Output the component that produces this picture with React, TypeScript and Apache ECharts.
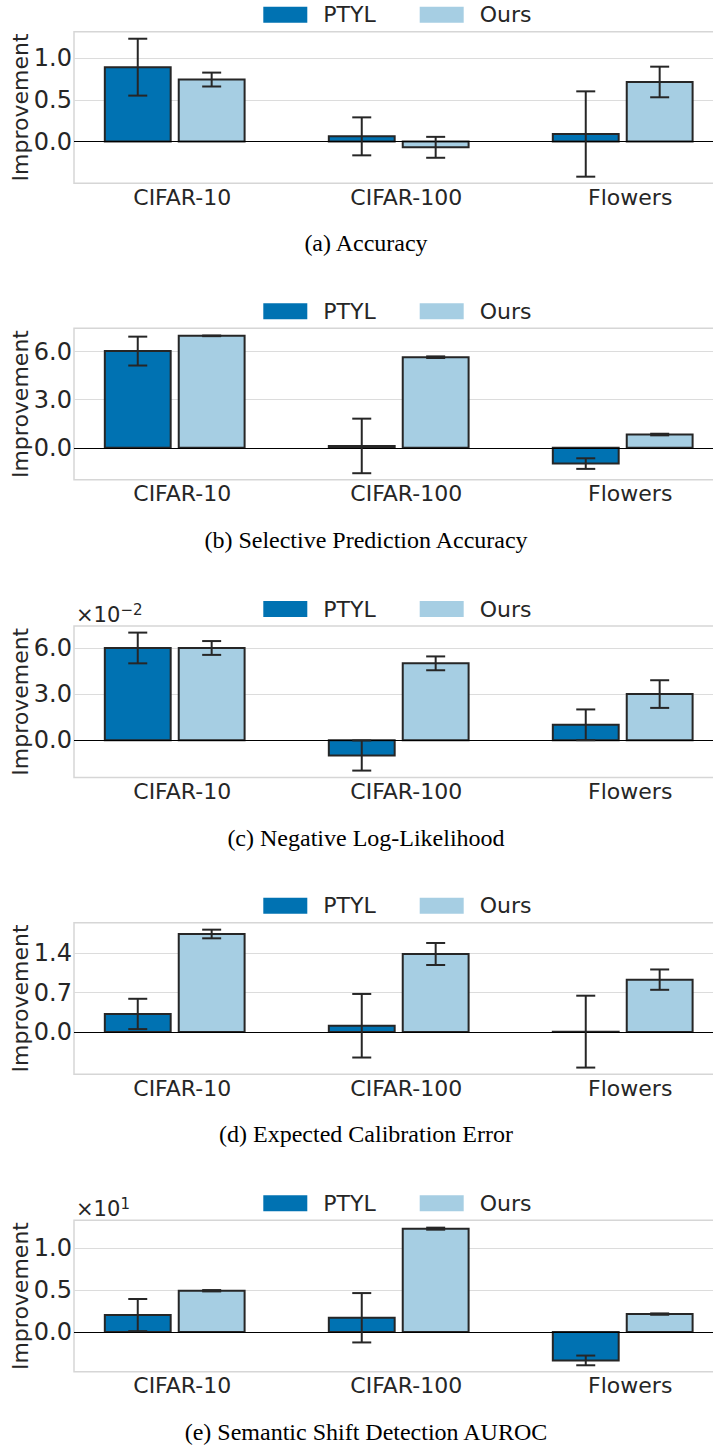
import React, { useEffect, useRef } from 'react';
import * as echarts from 'echarts';

// ---------- data ----------
const categories = ['CIFAR-10', 'CIFAR-100', 'Flowers'];
const seriesNames = ['PTYL', 'Ours'];
const captions = [
  '(a) Accuracy',
  '(b) Selective Prediction Accuracy',
  '(c) Negative Log-Likelihood',
  '(d) Expected Calibration Error',
  '(e) Semantic Shift Detection AUROC',
];

// (a) Accuracy
const accPtyl = [0.89, 0.063, 0.091];
const accPtylErr = [0.34, 0.227, 0.51];
const accOurs = [0.742, -0.068, 0.713];
const accOursErr = [0.083, 0.125, 0.183];
const accTicks = [0, 0.5, 1.0];

// (b) Selective Prediction Accuracy
const selPtyl = [6.03, 0.12, -0.98];
const selPtylErr = [0.9, 1.7, 0.33];
const selOurs = [6.98, 5.65, 0.83];
const selOursErr = [0.02, 0.05, 0.05];
const selTicks = [0, 3, 6];

// (c) Negative Log-Likelihood
const nllPtyl = [0.06, -0.01, 0.01];
const nllPtylErr = [0.01, 0.0098, 0.01];
const nllOurs = [0.06, 0.05, 0.03];
const nllOursErr = [0.0045, 0.0045, 0.009];
const nllTicks = [0, 0.03, 0.06];

// (d) Expected Calibration Error
const ecePtyl = [0.32, 0.11, 0.005];
const ecePtylErr = [0.27, 0.566, 0.64];
const eceOurs = [1.744, 1.388, 0.931];
const eceOursErr = [0.077, 0.196, 0.181];
const eceTicks = [0, 0.7, 1.4];

// (e) Semantic Shift Detection AUROC
const aurocPtyl = [2.03, 1.71, -3.39];
const aurocPtylErr = [1.92, 2.95, 0.58];
const aurocOurs = [4.94, 12.36, 2.15];
const aurocOursErr = [0.08, 0.12, 0.08];
const aurocTicks = [0, 5, 10];

const yRanges = [
  [-0.497, 1.314],
  [-1.99, 7.45],
  [-0.0243, 0.0743],
  [-0.753, 1.945],
  [-4.75, 13.36],
];
const tickScales = [1, 1, 100, 1, 0.1];
const exponents = ['', '', '−2', '', '1'];

// ---------- style / layout ----------
const PTYL_COLOR = '#0072b2';
const OURS_COLOR = '#a6cee3';
const EDGE = '#262626';
const FONT = 'DejaVu Sans';
const CHART_W = 740;
const GRID_LEFT = 74;
const GRID_WIDTH = 650;
const PX_PER_UNIT = 224;
const X_MIN = -0.4496;
const X_MAX = X_MIN + GRID_WIDTH / PX_PER_UNIT;
const BAR_OFFSET = 0.165;
const BAR_WIDTH = 0.294; // in category units
const PANEL_TOPS = [31.7, 328.3, 626, 922.7, 1220.3];
const PANEL_H = 151.5;

const panels = [
  { p: accPtyl, pe: accPtylErr, o: accOurs, oe: accOursErr, ticks: accTicks },
  { p: selPtyl, pe: selPtylErr, o: selOurs, oe: selOursErr, ticks: selTicks },
  { p: nllPtyl, pe: nllPtylErr, o: nllOurs, oe: nllOursErr, ticks: nllTicks },
  { p: ecePtyl, pe: ecePtylErr, o: eceOurs, oe: eceOursErr, ticks: eceTicks },
  { p: aurocPtyl, pe: aurocPtylErr, o: aurocOurs, oe: aurocOursErr, ticks: aurocTicks },
];

const renderBar = (params: any, api: any) => {
  const x = api.value(0);
  const v = api.value(1);
  const c0 = api.coord([x, 0]);
  const c1 = api.coord([x, v]);
  const w = api.size([BAR_WIDTH, 0])[0];
  return {
    type: 'rect',
    shape: {
      x: c0[0] - w / 2,
      y: Math.min(c0[1], c1[1]),
      width: w,
      height: Math.abs(c1[1] - c0[1]),
    },
    style: { fill: api.visual('color'), stroke: EDGE, lineWidth: 2 },
  };
};

const renderErr = (params: any, api: any) => {
  const x = api.value(0);
  const y = api.value(1);
  const e = api.value(2);
  const t = api.coord([x, y + e]);
  const b = api.coord([x, y - e]);
  const cap = 9.5;
  const st = { stroke: EDGE, lineWidth: 2 };
  return {
    type: 'group',
    children: [
      { type: 'line', shape: { x1: t[0], y1: t[1], x2: b[0], y2: b[1] }, style: st },
      { type: 'line', shape: { x1: t[0] - cap, y1: t[1], x2: t[0] + cap, y2: t[1] }, style: st },
      { type: 'line', shape: { x1: b[0] - cap, y1: b[1], x2: b[0] + cap, y2: b[1] }, style: st },
    ],
  };
};

function buildOption() {
  const grid: any[] = [];
  const xAxis: any[] = [];
  const yAxis: any[] = [];
  const legend: any[] = [];
  const series: any[] = [];
  const graphic: any[] = [];

  panels.forEach((pn, i) => {
    const top = PANEL_TOPS[i];
    grid.push({
      left: GRID_LEFT,
      top,
      width: GRID_WIDTH,
      height: PANEL_H,
      containLabel: false,
      outerBoundsMode: 'none',
      show: true,
      borderColor: '#d6d6d6',
      borderWidth: 1.5,
      backgroundColor: 'transparent',
    });
    const xVals = categories.map((_, k) => k);
    xAxis.push({
      type: 'value',
      gridIndex: i,
      min: X_MIN,
      max: X_MAX,
      axisLine: { show: false },
      axisTick: { show: false, customValues: xVals },
      splitLine: { show: false },
      axisLabel: {
        customValues: xVals,
        formatter: (v: number) => categories[Math.round(v)] ?? '',
        fontFamily: FONT,
        fontSize: 22,
        color: EDGE,
        margin: 3,
        padding: [0, 0, 0, 15],
      },
    });
    const sc = tickScales[i];
    yAxis.push({
      type: 'value',
      gridIndex: i,
      min: yRanges[i][0],
      max: yRanges[i][1],
      name: 'Improvement',
      nameLocation: 'middle',
      nameGap: 43,
      nameMoveOverlap: false,
      nameTextStyle: { fontFamily: FONT, fontSize: 22, color: EDGE },
      axisLine: { show: false },
      axisTick: { show: false, customValues: pn.ticks },
      splitLine: { show: true, lineStyle: { color: '#dcdcdc', width: 1.2 } },
      axisLabel: {
        customValues: pn.ticks,
        formatter: (v: number) => (v * sc).toFixed(1),
        fontFamily: FONT,
        fontSize: 24,
        color: EDGE,
        margin: 2,
      },
    });
    legend.push({
      data: seriesNames,
      left: 263.3,
      top: top - 28,
      padding: 0,
      itemWidth: 44,
      itemHeight: 16,
      itemGap: 44,
      icon: 'rect',
      selectedMode: false,
      itemStyle: { borderWidth: 0 },
      textStyle: { fontFamily: FONT, fontSize: 22, color: EDGE, padding: [0, 0, 0, 11] },
    });
    const mk = (name: string, vals: number[], off: number, color: string, withZero: boolean) => ({
      type: 'custom',
      name,
      xAxisIndex: i,
      yAxisIndex: i,
      z: 2,
      encode: { x: 0, y: 1 },
      data: vals.map((v, k) => [k + off, v]),
      itemStyle: { color },
      renderItem: renderBar,
      ...(withZero
        ? {
            markLine: {
              silent: true,
              symbol: 'none',
              label: { show: false },
              lineStyle: { color: '#000', width: 1.2, type: 'solid' },
              data: [{ yAxis: 0 }],
              z: 3,
            },
          }
        : {}),
    });
    series.push(mk('PTYL', pn.p, -BAR_OFFSET, PTYL_COLOR, true));
    series.push(mk('Ours', pn.o, BAR_OFFSET, OURS_COLOR, false));
    const errData = [
      ...pn.p.map((v, k) => [k - BAR_OFFSET, v, pn.pe[k]]),
      ...pn.o.map((v, k) => [k + BAR_OFFSET, v, pn.oe[k]]),
    ];
    series.push({
      type: 'custom',
      name: 'err' + i,
      xAxisIndex: i,
      yAxisIndex: i,
      z: 5,
      encode: { x: 0, y: 1 },
      data: errData,
      renderItem: renderErr,
    });
    graphic.push({
      type: 'text',
      style: {
        text: captions[i],
        x: 366,
        y: top + 211.5,
        align: 'center',
        verticalAlign: 'middle',
        fontFamily: 'Liberation Serif',
        fontSize: 24,
        fill: '#000',
      },
    });
    if (exponents[i]) {
      graphic.push({
        type: 'text',
        style: {
          text: '×10',
          x: 76,
          y: top - 11.5,
          align: 'left',
          verticalAlign: 'middle',
          fontFamily: FONT,
          fontSize: 21,
          fill: EDGE,
        },
      });
      graphic.push({
        type: 'text',
        style: {
          text: exponents[i],
          x: 120.5,
          y: top - 16,
          align: 'left',
          verticalAlign: 'middle',
          fontFamily: FONT,
          fontSize: 15,
          fill: EDGE,
        },
      });
    }
  });

  return {
    animation: false,
    backgroundColor: '#fff',
    textStyle: { fontFamily: FONT },
    grid,
    xAxis,
    yAxis,
    legend,
    series,
    graphic,
  };
}

export default function App() {
  const ref = useRef<HTMLDivElement>(null);
  useEffect(() => {
    if (!ref.current) return;
    const chart = echarts.init(ref.current, undefined, { renderer: 'svg' });
    chart.setOption(buildOption() as any);
    return () => chart.dispose();
  }, []);
  return (
    <div
      style={{
        position: 'fixed',
        left: 0,
        top: 0,
        width: 713,
        height: 1445,
        overflow: 'hidden',
        background: '#fff',
      }}
    >
      <div ref={ref} style={{ width: CHART_W, height: 1445 }} />
    </div>
  );
}
